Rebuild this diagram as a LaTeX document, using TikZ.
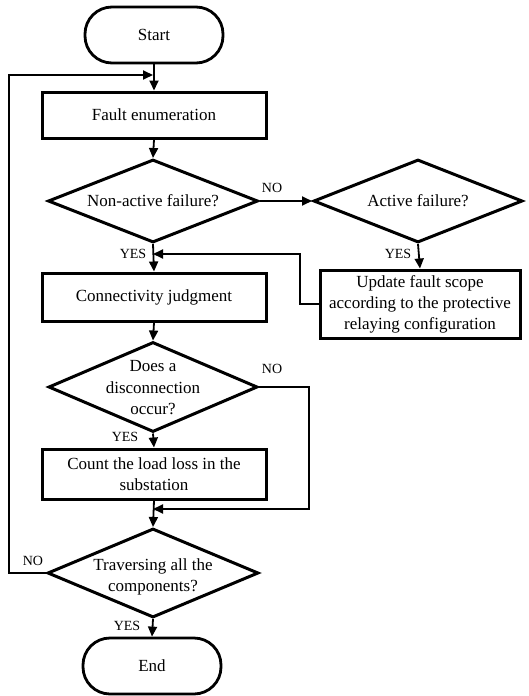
\documentclass[tikz,border=0pt]{standalone}
\usepackage{fontspec}
\setmainfont{Liberation Serif}
\usetikzlibrary{shapes.geometric,arrows.meta}
\tikzset{
  boxs/.style={draw,line width=3pt,rectangle,inner sep=0pt,align=center,font=\fontsize{17}{21}\selectfont},
  term/.style={draw,line width=2.8pt,rectangle,rounded corners=27pt,inner sep=0pt,font=\fontsize{17}{21}\selectfont},
  dec/.style={draw,line width=3pt,diamond,inner sep=0pt},
  dtxt/.style={align=center,inner sep=0pt,font=\fontsize{17}{21.5}\selectfont},
  conn/.style={line width=1.8pt,-{Triangle[length=10pt,width=9pt]}},
  lbl/.style={inner sep=0pt,font=\fontsize{14}{16}\selectfont}
}
\begin{document}
\begin{tikzpicture}[x=1pt,y=-1pt]
\useasboundingbox (0,0) rectangle (528,696);
\node[term,minimum width=138pt,minimum height=56pt] (start) at (154,35) {Start};
\node[boxs,minimum width=224pt,minimum height=46pt] (fe) at (154,115) {Fault enumeration};
\node[dec,minimum width=210pt,minimum height=83pt] (d1) at (153,201) {};
\node[dtxt] at (d1) {Non-active failure?};
\node[dec,minimum width=209pt,minimum height=83pt] (d2) at (418,201) {};
\node[dtxt] at (d2) {Active failure?};
\node[boxs,minimum width=200pt,minimum height=68pt] (up) at (420,304) {Update fault scope\\according to the protective\\relaying configuration};
\node[boxs,minimum width=224pt,minimum height=48pt] (cj) at (154,297) {Connectivity judgment};
\node[dec,minimum width=209pt,minimum height=90pt] (d3) at (153,387) {};
\node[dtxt] at (153,388) {Does a\\disconnection\\occur?};
\node[boxs,minimum width=224pt,minimum height=50pt] (cnt) at (154,474) {Count the load loss in the\\substation};
\node[dec,minimum width=211pt,minimum height=89pt] (d4) at (153,573) {};
\node[dtxt] at (153,577) {Traversing all the\\components?};
\node[term,minimum width=138pt,minimum height=56pt] (end) at (152,666) {End};

\coordinate (loopin) at (153,75);
\coordinate (joinA) at (153,254);
\coordinate (joinB) at (153,509);

\draw[conn] (start.south) -- (fe.north);
\draw[conn] (fe.south) -- (d1.north);
\draw[conn] (d1.east) -- (d2.west);
\draw[conn] (d1.south) -- (cj.north);
\draw[conn] (d2.south) -- (up.north);
\draw[conn] (up.west) -- (300,304) |- (joinA);
\draw[conn] (cj.south) -- (d3.north);
\draw[conn] (d3.south) -- (cnt.north);
\draw[conn] (d3.east) -- (309,387) |- (joinB);
\draw[conn] (cnt.south) -- (d4.north);
\draw[conn] (d4.south) -- (end.north);
\draw[conn] (d4.west) -- (9,573) |- (loopin);

\node[lbl] at (272,188) {NO};
\node[lbl] at (133,254) {YES};
\node[lbl] at (398,254) {YES};
\node[lbl] at (272,369) {NO};
\node[lbl] at (125,437) {YES};
\node[lbl] at (33,561) {NO};
\node[lbl] at (127,626) {YES};
\end{tikzpicture}
\end{document}
